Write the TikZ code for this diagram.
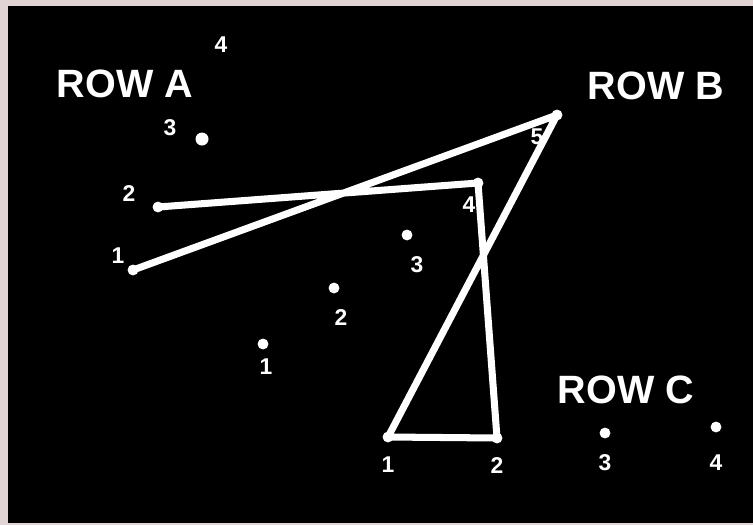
\documentclass[tikz,border=0pt]{standalone}
\usepackage{fontspec}
\setmainfont{Liberation Sans}
\usetikzlibrary{positioning}
\definecolor{edge}{RGB}{224,212,212}

\begin{document}
\begin{tikzpicture}[
  x=0.02cm, y=-0.02cm,
  seat/.style={circle, fill=white, inner sep=0pt, minimum size=6.2pt},
  num/.style={text=white, inner sep=0pt, font=\bfseries\fontsize{13}{13}\selectfont},
  rowlbl/.style={text=white, inner sep=0pt, font=\bfseries\fontsize{22.5}{22.5}\selectfont},
  route/.style={draw=white, line width=4pt, line join=round, line cap=round},
]
\useasboundingbox (0,0) rectangle (753,525);
\fill[edge] (0,0) rectangle (753,525);
\fill[black] (8,6) rectangle (753,523);

% ---- row labels ----
\node[rowlbl] (RA) at (125,84) {ROW A};
\node[rowlbl] (RB) at (656,86) {ROW B};
\node[rowlbl] (RC) at (626,390) {ROW C};

% ---- row A ----
\node[seat] (A1) at (133,270) {};
\node[seat] (A2) at (158,207) {};
\node[seat, minimum size=7.4pt] (A3) at (202,139) {};
\node[num] (nA1) at (118,256) {1};
\node[num] (nA2) at (129,194) {2};
\node[num] (nA3) at (170,128) {3};
\node[num] (nA4) at (221,45) {4};

% ---- row B ----
\node[seat] (B1) at (263,344) {};
\node[seat] (B2) at (334,288) {};
\node[seat] (B3) at (407,235) {};
\node[seat] (B4) at (478,183) {};
\node[seat] (B5) at (557,115) {};
\node[num] (nB1) at (266,367) {1};
\node[num] (nB2) at (341,318) {2};
\node[num] (nB3) at (417,265) {3};
\node[num] (nB4) at (469,205) {4};
\node[num] (nB5) at (537,137) {5};

% ---- row C ----
\node[seat] (C1) at (388,437) {};
\node[seat] (C2) at (497,438) {};
\node[seat] (C3) at (605,433) {};
\node[seat] (C4) at (716,427) {};
\node[num] (nC1) at (388,465) {1};
\node[num] (nC2) at (497,466) {2};
\node[num] (nC3) at (605,463) {3};
\node[num] (nC4) at (716,463) {4};

% ---- the walked route ----
\draw[route] (A2.center) -- (B4.center) -- (C2.center) -- (C1.center)
  -- (B5.center) -- (A1.center);

\end{tikzpicture}
\end{document}
